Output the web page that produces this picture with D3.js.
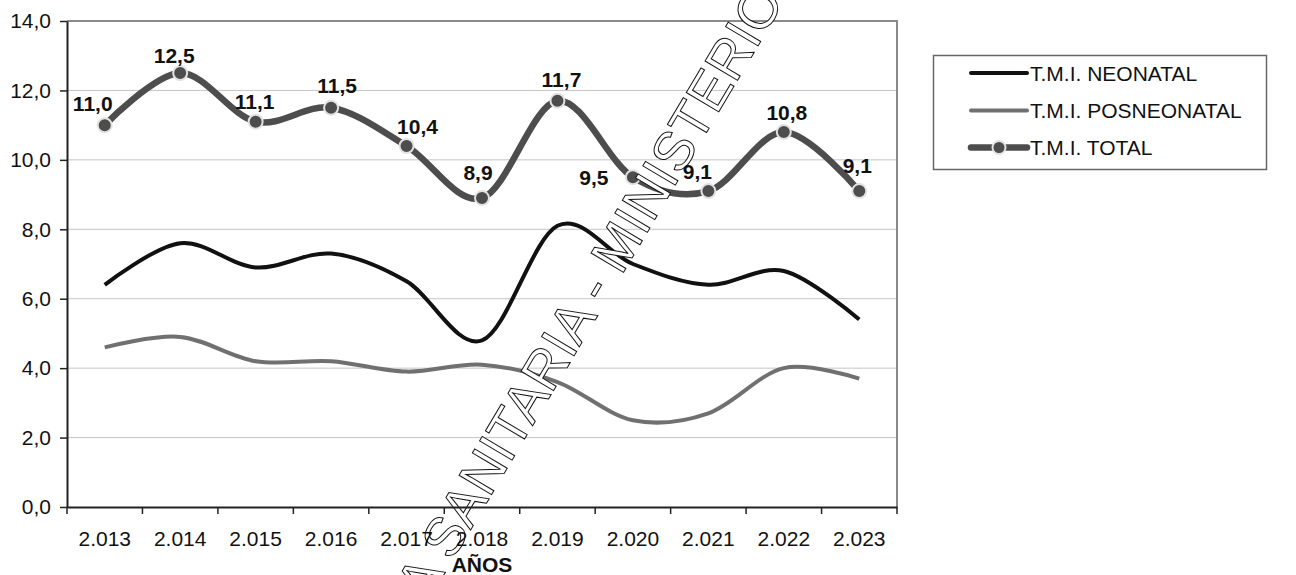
<!DOCTYPE html>
<html>
<head>
<meta charset="utf-8">
<script src="https://cdn.jsdelivr.net/npm/d3@7/dist/d3.min.js"></script>
<style>
  html, body { margin: 0; padding: 0; background: #fff; }
  svg { display: block; font-family: "Liberation Sans", Arial, sans-serif; }
</style>
</head>
<body>
<svg id="chart" width="1296" height="575"></svg>
<script>
// ---- data ----
const years = ["2.013","2.014","2.015","2.016","2.017","2.018","2.019","2.020","2.021","2.022","2.023"];
const neonatal = [6.4, 7.6, 6.9, 7.3, 6.5, 4.8, 8.1, 7.0, 6.4, 6.8, 5.4];
const posneonatal = [4.6, 4.9, 4.2, 4.2, 3.9, 4.1, 3.6, 2.5, 2.7, 4.0, 3.7];
const total = [11.0, 12.5, 11.1, 11.5, 10.4, 8.9, 11.7, 9.5, 9.1, 10.8, 9.1];
const yTicks = [0, 2, 4, 6, 8, 10, 12, 14];
const seriesNames = ["T.M.I. NEONATAL", "T.M.I. POSNEONATAL", "T.M.I. TOTAL"];
const xTitle = "AÑOS";
const watermark = "A SANITARIA - MINISTERIO";

// label placement offsets (px) for data labels of the total series
const labelDx = [-12, -6, -1, 6, 11, -4, 4, -39, -11, 3, -2];
const labelDy = [-22, -18, -20, -22, -20, -26, -21, 0, -20, -20, -26];

// ---- layout ----
const svg = d3.select("#chart");
const plot = { left: 67, right: 897, top: 21, bottom: 507 };
const fmt = v => d3.format(".1f")(v).replace(".", ",");

const x = d3.scaleBand().domain(years).range([plot.left, plot.right]).padding(0);
const y = d3.scaleLinear().domain([0, 14]).range([plot.bottom, plot.top]);
const cx = d => x(d) + x.bandwidth() / 2;

// gridlines
svg.append("g").selectAll("line").data(yTicks.filter(t => t > 0 && t < 14)).join("line")
  .attr("x1", plot.left).attr("x2", plot.right)
  .attr("y1", d => y(d)).attr("y2", d => y(d))
  .attr("stroke", "#c4c4c4").attr("stroke-width", 1);

// top & right border (gray)
svg.append("path")
  .attr("d", `M${plot.left},${plot.top}H${plot.right}V${plot.bottom}`)
  .attr("fill", "none").attr("stroke", "#8a8a8a").attr("stroke-width", 2);

// y axis
const yAxis = svg.append("g").attr("transform", `translate(${plot.left},0)`)
  .call(d3.axisLeft(y).tickValues(yTicks).tickFormat(fmt).tickSize(7).tickSizeOuter(0));
yAxis.select(".domain").attr("stroke", "#222").attr("stroke-width", 2);
yAxis.selectAll(".tick line").attr("stroke", "#222").attr("stroke-width", 1.5);
yAxis.selectAll(".tick text").attr("font-size", 21).attr("fill", "#111")
  .attr("font-family", "Liberation Sans, Arial, sans-serif").attr("x", -16);

// category boundary ticks
const bounds = years.map(d => x(d)).concat([x(years[years.length - 1]) + x.bandwidth()]);
svg.append("g").selectAll("line").data(bounds).join("line")
  .attr("x1", d => d).attr("x2", d => d)
  .attr("y1", plot.bottom).attr("y2", plot.bottom + 7)
  .attr("stroke", "#222").attr("stroke-width", 1.5);

// lines
const line = d3.line()
  .x((d, i) => cx(years[i])).y(d => y(d))
  .curve(d3.curveCatmullRom.alpha(0));

svg.append("path").datum(posneonatal).attr("d", line)
  .attr("fill", "none").attr("stroke", "#707070").attr("stroke-width", 4);
svg.append("path").datum(neonatal).attr("d", line)
  .attr("fill", "none").attr("stroke", "#111").attr("stroke-width", 4);
svg.append("path").datum(total).attr("d", line)
  .attr("fill", "none").attr("stroke", "#4d4d4d").attr("stroke-width", 6.5);
svg.append("g").selectAll("circle").data(total).join("circle")
  .attr("cx", (d, i) => cx(years[i])).attr("cy", d => y(d)).attr("r", 7)
  .attr("fill", "#4d4d4d").attr("stroke", "#e2e2e2").attr("stroke-width", 2);

// watermark (outlined text)
svg.append("text")
  .attr("transform", "translate(606,302) rotate(-59.3)")
  .attr("text-anchor", "middle")
  .attr("font-size", 55)
  .attr("fill", "#fff").attr("fill-opacity", 1)
  .attr("stroke", "#111").attr("stroke-width", 1)
  .text(watermark);

// x axis (on top of watermark)
const xAxis = svg.append("g").attr("transform", `translate(0,${plot.bottom})`)
  .call(d3.axisBottom(x).tickSize(0).tickSizeOuter(0));
xAxis.select(".domain").attr("stroke", "#222").attr("stroke-width", 2);
xAxis.selectAll(".tick text").attr("font-size", 21).attr("fill", "#111")
  .attr("font-family", "Liberation Sans, Arial, sans-serif").attr("y", 0).attr("dy", 0)
  .attr("transform", "translate(0,39)");

svg.append("text").attr("x", (plot.left + plot.right) / 2).attr("y", 572)
  .attr("text-anchor", "middle").attr("font-size", 21).attr("font-weight", "bold")
  .attr("fill", "#111").text(xTitle);

// data labels
svg.append("g").selectAll("text").data(total).join("text")
  .attr("x", (d, i) => cx(years[i]) + labelDx[i])
  .attr("y", (d, i) => y(d) + labelDy[i])
  .attr("dy", "0.36em")
  .attr("text-anchor", "middle").attr("font-size", 21).attr("font-weight", "bold")
  .attr("fill", "#111").text(d => fmt(d));

// legend
const lg = svg.append("g");
lg.append("rect").attr("x", 933.5).attr("y", 55.5).attr("width", 333).attr("height", 114)
  .attr("fill", "#fff").attr("stroke", "#666").attr("stroke-width", 1.5);
const rowsY = [73, 110.5, 147.5];
const legendStyles = [
  { stroke: "#111", w: 4, marker: false },
  { stroke: "#707070", w: 4, marker: false },
  { stroke: "#4d4d4d", w: 6.5, marker: true }
];
seriesNames.forEach((name, i) => {
  const st = legendStyles[i];
  lg.append("line").attr("x1", 971).attr("x2", 1027).attr("y1", rowsY[i]).attr("y2", rowsY[i])
    .attr("stroke", st.stroke).attr("stroke-width", st.w).attr("stroke-linecap", "round");
  if (st.marker) {
    lg.append("circle").attr("cx", 999).attr("cy", rowsY[i]).attr("r", 6.5)
      .attr("fill", "#4d4d4d").attr("stroke", "#e2e2e2").attr("stroke-width", 2);
  }
  lg.append("text").attr("x", 1030).attr("y", rowsY[i]).attr("dy", "0.36em")
    .attr("font-size", 21).attr("fill", "#111").text(name);
});
</script>
</body>
</html>
